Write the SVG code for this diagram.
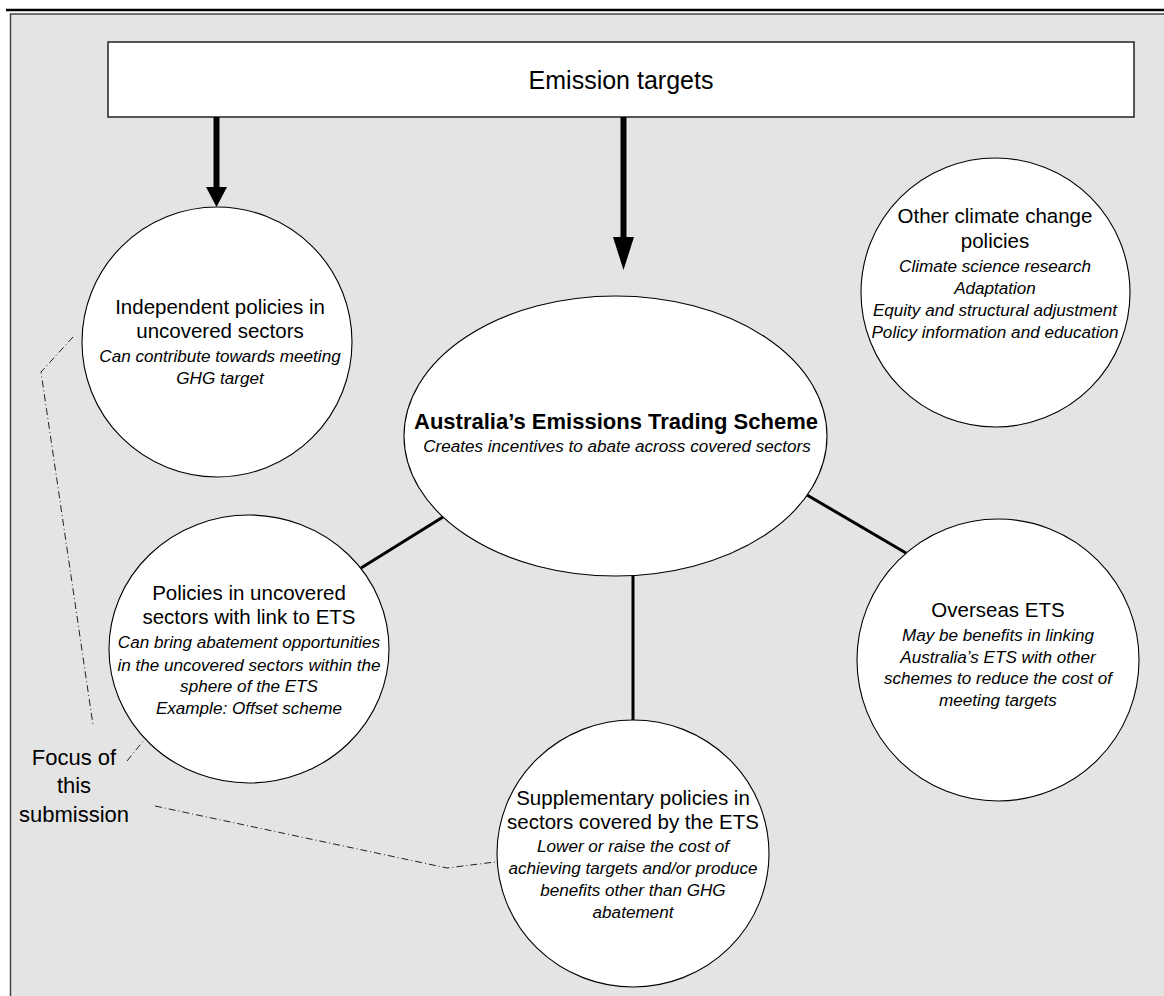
<svg xmlns="http://www.w3.org/2000/svg" width="1164" height="996" viewBox="0 0 1164 996">
<style>
.node{fill:#fff;stroke:#000;stroke-width:1.1}
.t{font-family:"Liberation Sans",Arial,sans-serif;font-size:20.5px;fill:#000;text-anchor:middle}
.i{font-family:"Liberation Sans",Arial,sans-serif;font-size:17.1px;font-style:italic;fill:#000;text-anchor:middle}
.b{font-family:"Liberation Sans",Arial,sans-serif;font-size:22px;font-weight:bold;fill:#000;text-anchor:middle}
.f{font-family:"Liberation Sans",Arial,sans-serif;font-size:22px;fill:#000;text-anchor:middle}
.conn{stroke:#000;stroke-width:3;fill:none}
.shaft{stroke:#000;stroke-width:6}
.dd{stroke:#222;stroke-width:1;fill:none;stroke-dasharray:7,3,1,3}
</style>
<rect x="0" y="0" width="1164" height="996" fill="#fff"/>
<line x1="6" y1="10" x2="1164" y2="10" stroke="#000" stroke-width="2.5"/>
<rect x="10.5" y="14" width="1160" height="990" fill="#e4e4e4" stroke="#444" stroke-width="1.5"/>

<g id="emission-targets">
<rect x="108" y="42" width="1026" height="75" fill="#fff" stroke="#222" stroke-width="1.5"/>
<text x="621" y="89" font-family="Liberation Sans, Arial, sans-serif" font-size="25" text-anchor="middle">Emission targets</text>
</g>

<g id="connectors">
<line class="shaft" x1="216.5" y1="117" x2="216.5" y2="188"/>
<polygon points="206,187 227,187 216.5,207"/>
<line class="shaft" x1="623.5" y1="117" x2="623.5" y2="238"/>
<polygon points="613,237 634,237 623.5,270"/>
<line class="conn" x1="443" y1="517" x2="361" y2="568"/>
<line class="conn" x1="633" y1="576" x2="633" y2="720"/>
<line class="conn" x1="807" y1="495" x2="906" y2="553"/>
<polyline class="dd" points="73,337 41,372 93,725"/>
<line class="dd" x1="127" y1="761" x2="144" y2="740"/>
<polyline class="dd" points="155,806 447,868 495,862"/>
</g>

<g id="independent-policies">
<circle class="node" cx="217" cy="342" r="135"/>
<text class="t" x="220" y="314">Independent policies in</text>
<text class="t" x="220" y="338">uncovered sectors</text>
<text class="i" x="220" y="362">Can contribute towards meeting</text>
<text class="i" x="220" y="384">GHG target</text>
</g>

<g id="ets">
<ellipse class="node" cx="615.5" cy="436" rx="211.5" ry="140"/>
<text class="b" x="616" y="429">Australia’s Emissions Trading Scheme</text>
<text class="i" x="617" y="452">Creates incentives to abate across covered sectors</text>
</g>

<g id="other-policies">
<circle class="node" cx="995.5" cy="292.5" r="134.5"/>
<text class="t" x="995" y="223">Other climate change</text>
<text class="t" x="995" y="248">policies</text>
<text class="i" x="995" y="272">Climate science research</text>
<text class="i" x="995" y="294">Adaptation</text>
<text class="i" x="995" y="316">Equity and structural adjustment</text>
<text class="i" x="995" y="338">Policy information and education</text>
</g>

<g id="linked-policies">
<ellipse class="node" cx="249" cy="649" rx="140" ry="134"/>
<text class="t" x="249" y="600">Policies in uncovered</text>
<text class="t" x="249" y="624">sectors with link to ETS</text>
<text class="i" x="249" y="648">Can bring abatement opportunities</text>
<text class="i" x="249" y="671">in the uncovered sectors within the</text>
<text class="i" x="249" y="692">sphere of the ETS</text>
<text class="i" x="249" y="714">Example: Offset scheme</text>
</g>

<g id="overseas-ets">
<circle class="node" cx="998" cy="660" r="141"/>
<text class="t" x="998" y="617">Overseas ETS</text>
<text class="i" x="998" y="641">May be benefits in linking</text>
<text class="i" x="998" y="663">Australia’s ETS with other</text>
<text class="i" x="998" y="684">schemes to reduce the cost of</text>
<text class="i" x="998" y="706">meeting targets</text>
</g>

<g id="supplementary-policies">
<ellipse class="node" cx="633" cy="853.5" rx="136" ry="133.5"/>
<text class="t" x="633" y="805">Supplementary policies in</text>
<text class="t" x="633" y="829">sectors covered by the ETS</text>
<text class="i" x="633" y="852">Lower or raise the cost of</text>
<text class="i" x="633" y="874">achieving targets and/or produce</text>
<text class="i" x="633" y="896">benefits other than GHG</text>
<text class="i" x="633" y="918">abatement</text>
</g>

<g id="focus-label">
<text class="f" x="74" y="765">Focus of</text>
<text class="f" x="74" y="793">this</text>
<text class="f" x="74" y="822">submission</text>
</g>
</svg>
